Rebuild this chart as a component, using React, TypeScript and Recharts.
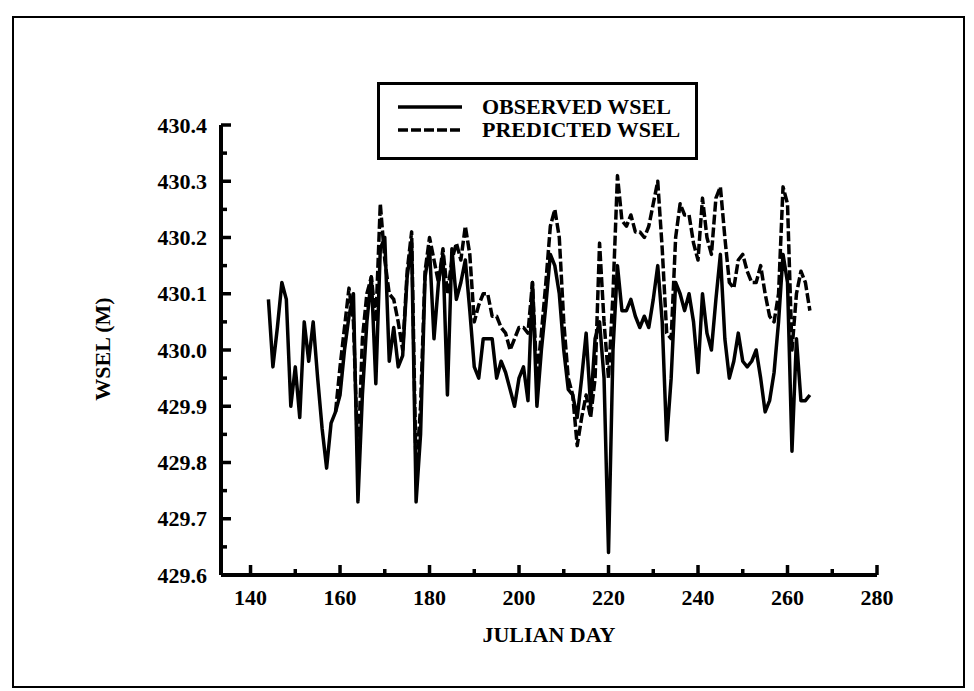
import React from 'react';
import { LineChart, Line, XAxis, YAxis, Legend, Label } from 'recharts';

const START_DAY = 144;

const observed = [
  430.09, 429.97, 430.04, 430.12, 430.09, 429.90, 429.97, 429.88, 430.05, 429.98,
  430.05, 429.95, 429.86, 429.79, 429.87, 429.89, 429.92, 430.00, 430.06, 430.10,
  429.73, 429.92, 430.05, 430.13, 429.94, 430.18, 430.20, 429.98, 430.04, 429.97,
  429.99, 430.13, 430.19, 429.73, 429.85, 430.13, 430.18, 430.02, 430.12, 430.17,
  429.92, 430.18, 430.09, 430.12, 430.16, 430.07, 429.97, 429.95, 430.02, 430.02,
  430.02, 429.95, 429.98, 429.96, 429.93, 429.90, 429.95, 429.97, 429.91, 430.12,
  429.90, 430.00, 430.08, 430.17, 430.15, 430.10, 430.00, 429.93, 429.92, 429.88,
  429.95, 430.03, 429.90, 430.02, 430.05, 429.95, 429.64, 430.00, 430.15, 430.07,
  430.07, 430.09, 430.06, 430.04, 430.06, 430.04, 430.09, 430.15, 430.05, 429.84,
  429.95, 430.12, 430.10, 430.07, 430.10, 430.05, 429.96, 430.10, 430.03, 430.00,
  430.09, 430.17, 430.02, 429.95, 429.98, 430.03, 429.98, 429.97, 429.98, 430.00,
  429.95, 429.89, 429.91, 429.96, 430.05, 430.17, 430.12, 429.82, 430.02, 429.91,
  429.91, 429.92,
];

const predicted = [
  null, null, null, null, null, null, null, null, null, null,
  null, null, null, null, null, 429.89, 429.97, 430.04, 430.11, 430.05,
  429.80, 430.02, 430.10, 430.13, 430.05, 430.26, 430.16, 430.10, 430.09, 430.05,
  430.00, 430.14, 430.21, 429.78, 429.90, 430.14, 430.20, 430.16, 430.12, 430.18,
  430.10, 430.16, 430.19, 430.16, 430.22, 430.17, 430.05, 430.08, 430.10, 430.10,
  430.06, 430.06, 430.04, 430.03, 430.00, 430.02, 430.04, 430.04, 430.03, 430.12,
  429.95, 430.03, 430.12, 430.22, 430.25, 430.20, 430.05, 429.95, 429.92, 429.83,
  429.88, 429.92, 429.88, 429.95, 430.19, 430.05, 429.95, 430.10, 430.31, 430.23,
  430.22, 430.24, 430.21, 430.21, 430.20, 430.22, 430.26, 430.30, 430.18, 430.03,
  430.02, 430.20, 430.26, 430.24, 430.24, 430.19, 430.16, 430.27, 430.20, 430.17,
  430.27, 430.29, 430.20, 430.12, 430.11, 430.16, 430.17, 430.14, 430.12, 430.12,
  430.15, 430.10, 430.06, 430.05, 430.10, 430.29, 430.26, 430.00, 430.10, 430.14,
  430.12, 430.07,
];

const xTicks = [140, 150, 160, 170, 180, 190, 200, 210, 220, 230, 240, 250, 260, 270, 280];
const yTicks = [
  429.6, 429.65, 429.7, 429.75, 429.8, 429.85, 429.9, 429.95, 430.0,
  430.05, 430.1, 430.15, 430.2, 430.25, 430.3, 430.35, 430.4,
];

const seriesNames = ['OBSERVED WSEL', 'PREDICTED WSEL'];

const data = observed.map((v, i) => ({
  day: START_DAY + i,
  observed: v,
  predicted: predicted[i],
}));

const FONT = '"Liberation Serif", "Times New Roman", serif';

const textStyle: React.CSSProperties = {
  fontFamily: FONT,
  fontWeight: 'bold',
  fontSize: 22,
  fill: '#000',
};

const renderXTick = (props: any) => {
  const { x, y, payload } = props;
  const v = payload.value;
  const major = v % 20 === 0;
  return (
    <g key={`xt-${v}`}>
      <line x1={x} x2={x} y1={y} y2={y - (major ? 10 : 6)} stroke="#000" strokeWidth={3.5} />
      {major && (
        <text x={x} y={y + 30} textAnchor="middle" style={textStyle}>
          {v}
        </text>
      )}
    </g>
  );
};

const renderYTick = (props: any) => {
  const { x, y, payload } = props;
  const v = payload.value as number;
  const major = Math.round(v * 100) % 10 === 0;
  return (
    <g key={`yt-${v}`}>
      <line x1={x} x2={x + (major ? 10 : 6)} y1={y} y2={y} stroke="#000" strokeWidth={3.5} />
      {major && (
        <text x={x - 14} y={y + 7.5} textAnchor="end" style={textStyle}>
          {v.toFixed(1)}
        </text>
      )}
    </g>
  );
};

const LegendBox = () => (
  <div
    style={{
      position: 'relative',
      boxSizing: 'border-box',
      width: 321,
      height: 78,
      border: '3px solid #000',
      background: '#fff',
    }}
  >
    {seriesNames.map((name, i) => (
      <React.Fragment key={name}>
        <svg
          width={64}
          height={20}
          style={{ position: 'absolute', left: 18, top: 12 + i * 23 }}
        >
          <line
            x1={0}
            x2={64}
            y1={10}
            y2={10}
            stroke="#000"
            strokeWidth={3.5}
            strokeDasharray={i === 1 ? '10 3' : undefined}
          />
        </svg>
        <span
          style={{
            position: 'absolute',
            left: 102,
            top: 12 + i * 23,
            fontFamily: FONT,
            fontWeight: 'bold',
            fontSize: 22,
            color: '#000',
            lineHeight: '20px',
            whiteSpace: 'nowrap',
          }}
        >
          {name}
        </span>
      </React.Fragment>
    ))}
  </div>
);

export default function App() {
  return (
    <div style={{ position: 'relative', width: 960, height: 683 }}>
      <div
        style={{
          position: 'absolute',
          left: 4,
          top: 8,
          width: 953,
          height: 672,
          border: '2px solid #000',
          boxSizing: 'border-box',
        }}
      />
      <LineChart
        width={958}
        height={683}
        data={data}
        margin={{ top: 117, right: 89, bottom: 115, left: 212 }}
      >
        <XAxis
          dataKey="day"
          type="number"
          domain={[133.4, 280]}
          ticks={xTicks}
          interval={0}
          allowDataOverflow
          height={1}
          tickSize={0}
          tickMargin={0}
          tick={renderXTick}
          tickLine={false}
          axisLine={{ stroke: '#000', strokeWidth: 4 }}
        >
          <Label value="JULIAN DAY" position="bottom" offset={50} style={textStyle} />
        </XAxis>
        <YAxis
          type="number"
          domain={[429.6, 430.4]}
          ticks={yTicks}
          interval={0}
          allowDataOverflow
          width={1}
          tickSize={0}
          tickMargin={0}
          tick={renderYTick}
          tickLine={false}
          axisLine={{ stroke: '#000', strokeWidth: 4 }}
        >
          <Label
            content={(p: any) => {
              const vb = p.viewBox || {};
              const cx = (vb.x ?? 212) + (vb.width ?? 1) - 119;
              const cy = (vb.y ?? 117) + (vb.height ?? 450) / 2 - 1;
              return (
                <text
                  x={cx}
                  y={cy}
                  transform={`rotate(-90 ${cx} ${cy})`}
                  textAnchor="middle"
                  dominantBaseline="central"
                  style={textStyle}
                >
                  WSEL (M)
                </text>
              );
            }}
          />
        </YAxis>
        <Legend
          layout="horizontal"
          verticalAlign="middle"
          align="center"
          content={<LegendBox />}
          wrapperStyle={{ position: 'absolute', left: 369, top: 74, width: 321, height: 78 }}
        />
        <Line
          type="linear"
          dataKey="observed"
          stroke="#000"
          strokeWidth={3.5}
          dot={false}
          isAnimationActive={false}
          strokeLinejoin="round"
        />
        <Line
          type="linear"
          dataKey="predicted"
          stroke="#000"
          strokeWidth={3.5}
          strokeDasharray="10 3"
          dot={false}
          isAnimationActive={false}
          strokeLinejoin="round"
        />
      </LineChart>
    </div>
  );
}
